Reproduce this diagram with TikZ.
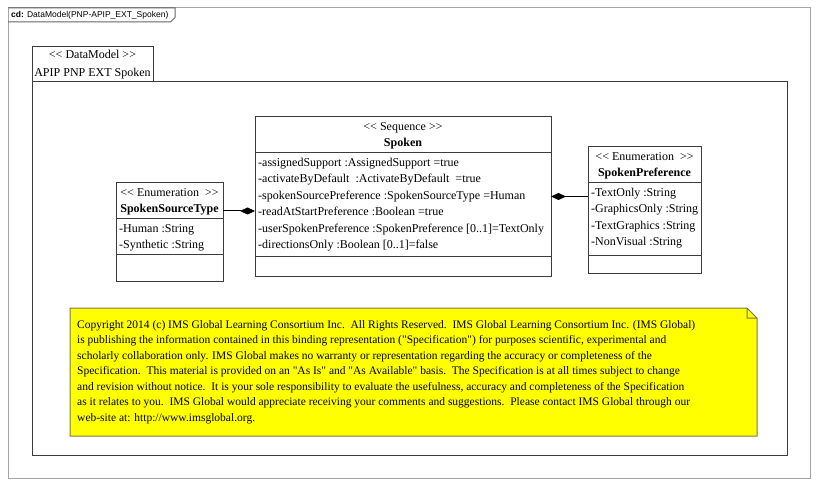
\documentclass[tikz,border=0pt]{standalone}
\usepackage{fontspec}
\setmainfont{Liberation Serif}[Ligatures=TeXOff]
\newfontfamily\tabfont{Liberation Sans}
\usetikzlibrary{arrows.meta}
\definecolor{framegray}{RGB}{165,165,165}
\definecolor{tabgray}{RGB}{100,100,100}
\definecolor{linegray}{RGB}{60,60,60}
\definecolor{noteborder}{RGB}{128,120,72}
\definecolor{noteyellow}{RGB}{255,255,0}

\begin{document}
\begin{tikzpicture}[x=1pt,y=-1pt,
box/.style={draw=linegray,line width=1pt,inner sep=0pt,outer sep=0pt,anchor=north west},
stereo/.style={font=\fontsize{12}{14}\selectfont,inner sep=0pt,anchor=base},
title/.style={font=\fontsize{12}{14}\selectfont\bfseries,inner sep=0pt,anchor=base},
attr/.style={font=\fontsize{12}{14}\selectfont,inner sep=0pt,anchor=base west},
notetext/.style={font=\fontsize{11.5}{14}\selectfont,inner sep=0pt,anchor=base west},
composite/.style={draw=black,line width=1pt,-{Diamond[length=15pt,width=7pt]}}]
\useasboundingbox (0,0) rectangle (818,486);
% frame
\node[box,draw=framegray,minimum width=802pt,minimum height=470pt] (frame) at (8,8) {};
\draw[tabgray,line width=1pt] (frame.north west) -- ++(167,0) -- ++(0,9.5)
  -- ++(-4.5,4.5) -- (frame.west |- 0,22);
\node[font=\tabfont\fontsize{8.5}{10}\selectfont,anchor=west,inner sep=0pt] (diagname)
  at (11,15.5) {\textbf{cd:} DataModel(PNP-APIP\_EXT\_Spoken)};
% package
\node[box,minimum width=121pt,minimum height=35pt] (pkgtab) at (32,47) {};
\node[stereo] (pkgstereo) at (pkgtab.north |- 0,59) {<< DataModel >>};
\node[stereo] (pkgname) at (pkgtab.north |- 0,77) {APIP PNP EXT Spoken};
\node[box,minimum width=755pt,minimum height=373pt] (pkg) at (32,82) {};
% Spoken
\node[box,minimum width=296pt,minimum height=159pt] (spoken) at (255,117) {};
\node[stereo] (spoken-st) at (spoken.north |- 0,131) {<< Sequence >>};
\node[title] (spoken-name) at (spoken.north |- 0,147) {Spoken};
\draw[linegray,line width=1pt] (spoken.west |- 0,153) -- (spoken.east |- 0,153)
  (spoken.west |- 0,256) -- (spoken.east |- 0,256);
\foreach \a [count=\i] in {{-assignedSupport :AssignedSupport =true},
  {-activateByDefault\ \ :ActivateByDefault\ \ =true},
  {-spokenSourcePreference :SpokenSourceType =Human},
  {-readAtStartPreference :Boolean =true},
  {-userSpokenPreference :SpokenPreference [0..1]=TextOnly},
  {-directionsOnly :Boolean [0..1]=false}}
  \node[attr] (spoken-a\i) at (258,{150.1+\i*16.4}) {\a};
% SpokenSourceType
\node[box,minimum width=107pt,minimum height=98pt] (sst) at (116,183) {};
\node[stereo] (sst-st) at (sst.north |- 0,197) {<< Enumeration\ \ >>};
\node[title] (sst-name) at (sst.north |- 0,213) {SpokenSourceType};
\draw[linegray,line width=1pt] (sst.west |- 0,219) -- (sst.east |- 0,219)
  (sst.west |- 0,254) -- (sst.east |- 0,254);
\foreach \a [count=\i] in {{-Human :String},{-Synthetic :String}}
  \node[attr] (sst-a\i) at (119,{216.1+\i*16.4}) {\a};
% SpokenPreference
\node[box,minimum width=113pt,minimum height=126pt] (pref) at (588,147) {};
\node[stereo] (pref-st) at (pref.north |- 0,161) {<< Enumeration\ \ >>};
\node[title] (pref-name) at (pref.north |- 0,177) {SpokenPreference};
\draw[linegray,line width=1pt] (pref.west |- 0,183) -- (pref.east |- 0,183)
  (pref.west |- 0,255) -- (pref.east |- 0,255);
\foreach \a [count=\i] in {{-TextOnly :String},{-GraphicsOnly :String},
  {-TextGraphics :String},{-NonVisual :String}}
  \node[attr] (pref-a\i) at (591,{180.1+\i*16.4}) {\a};
% links
\draw[composite] ([yshift=21pt]sst.east) coordinate (sst-link) -- (sst-link -| spoken.west);
\draw[composite] (pref.west |- spoken.east) -- (spoken.east);
% note
\node[inner sep=0pt,outer sep=0pt,anchor=north west,minimum width=687pt,
  minimum height=128pt] (note) at (70,308) {};
\fill[noteyellow] (note.north west) -- ([xshift=-10pt]note.north east)
  -- ([yshift=-10pt]note.north east) -- (note.south east) -- (note.south west) -- cycle;
\draw[noteborder,line width=1pt] (note.north west) -- ([xshift=-10pt]note.north east)
  -- ([yshift=-10pt]note.north east) -- (note.south east) -- (note.south west) -- cycle
  ([xshift=-10pt]note.north east) |- ([yshift=-10pt]note.north east);
\foreach \l [count=\i] in {{Copyright 2014 (c) IMS Global Learning Consortium Inc.\ \ All Rights Reserved.\ \ IMS Global Learning Consortium Inc. (IMS Global)},
  {is publishing the information contained in this binding representation ("Specification") for purposes scientific, experimental and},
  {scholarly collaboration only. IMS Global makes no warranty or representation regarding the accuracy or completeness of the},
  {Specification.\ \ This material is provided on an "As Is" and "As Available" basis.\ \ The Specification is at all times subject to change},
  {and revision without notice.\ \ It is your sole responsibility to evaluate the usefulness, accuracy and completeness of the Specification},
  {as it relates to you.\ \ IMS Global would appreciate receiving your comments and suggestions.\ \ Please contact IMS Global through our},
  {web-site at: http://www.imsglobal.org.}}
  \node[notetext] (note-l\i) at (77,{312.5+\i*15.5}) {\l};
\end{tikzpicture}
\end{document}
